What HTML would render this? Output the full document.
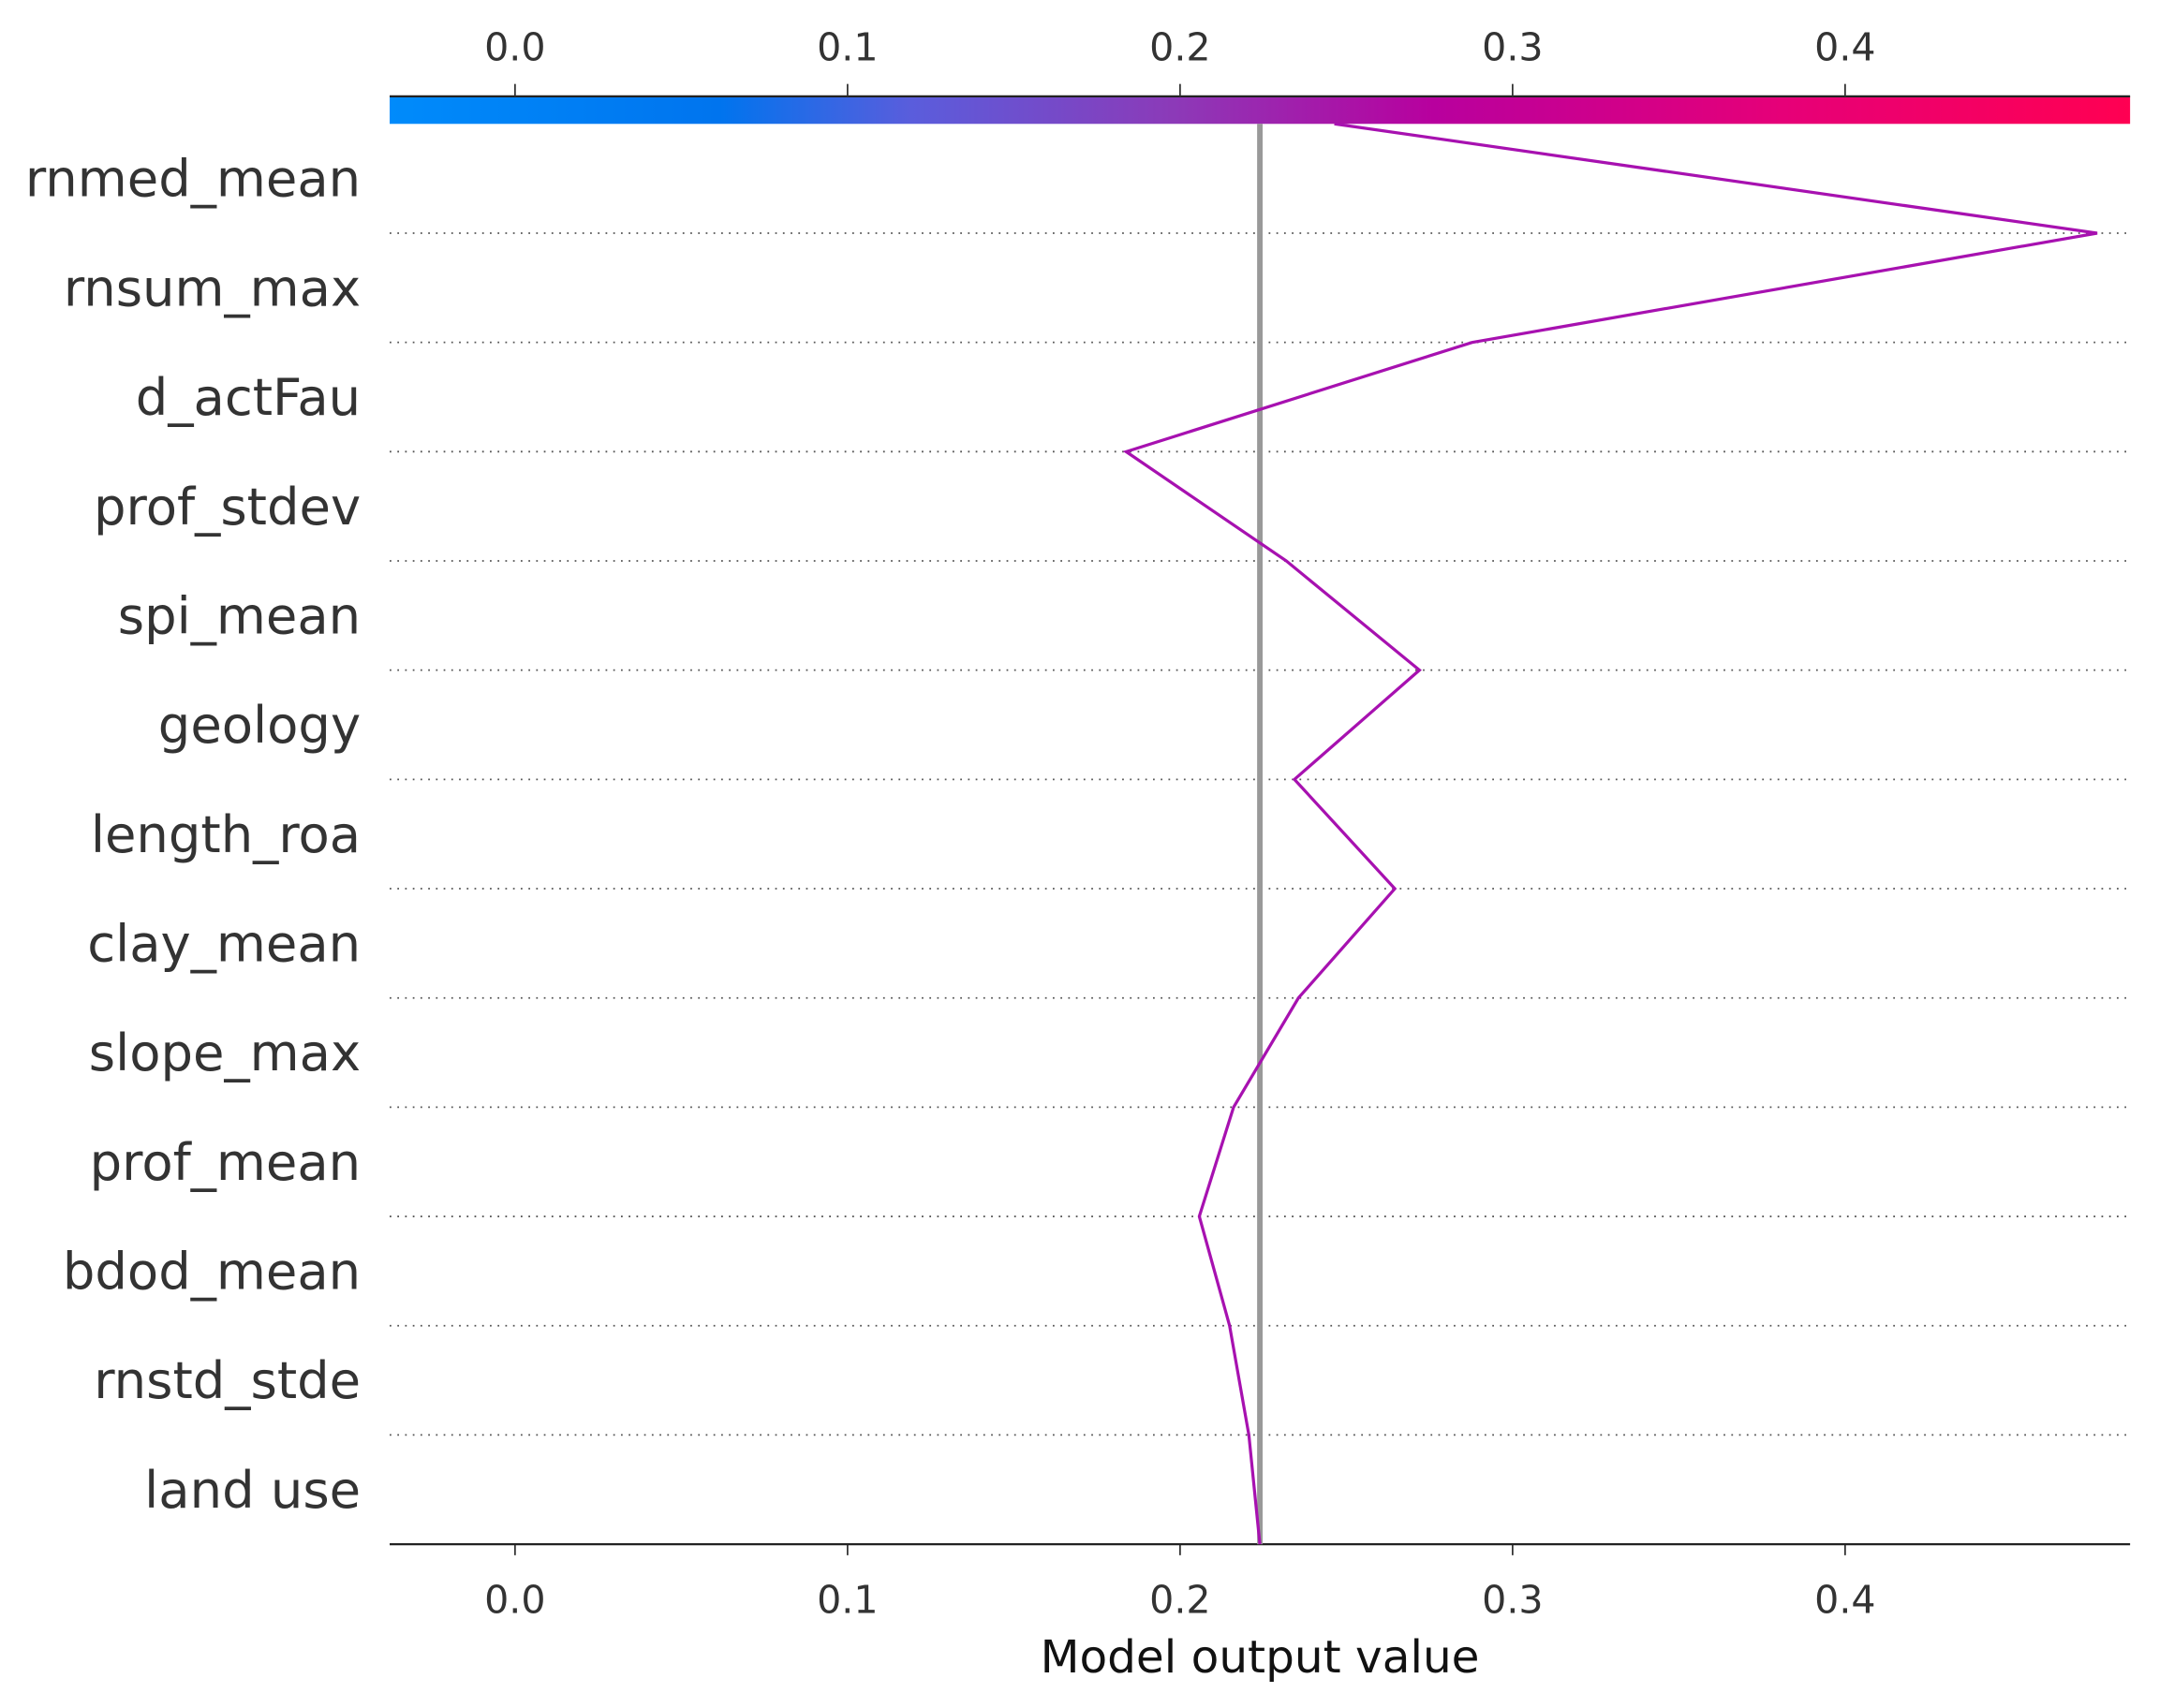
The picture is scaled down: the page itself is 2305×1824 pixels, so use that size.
<!DOCTYPE html>
<html><head><meta charset="utf-8"><style>
html,body{margin:0;padding:0;background:#fff;}
svg{display:block;font-family:"DejaVu Sans","Liberation Sans",sans-serif;}
</style></head><body>
<svg id="chart" width="2305" height="1824" viewBox="0 0 1568 1241" preserveAspectRatio="none" xmlns="http://www.w3.org/2000/svg">
<defs>
<linearGradient id="cb" x1="0" x2="1" y1="0" y2="0">
<stop offset="0" stop-color="#008bfb"/>
<stop offset="0.19" stop-color="#0074ee"/>
<stop offset="0.3" stop-color="#5a5ddc"/>
<stop offset="0.45" stop-color="#8c3ab8"/>
<stop offset="0.6" stop-color="#b8009e"/>
<stop offset="0.8" stop-color="#e60078"/>
<stop offset="1" stop-color="#ff0052"/>
</linearGradient>
</defs>
<g id="root"></g>
</svg>
<script>
const features = ["rnmed_mean","rnsum_max","d_actFau","prof_stdev","spi_mean","geology","length_roa","clay_mean","slope_max","prof_mean","bdod_mean","rnstd_stde","land use"];
const cumValues = [0.2464,0.4758,0.2878,0.1838,0.2319,0.2720,0.2344,0.2646,0.2356,0.2161,0.2058,0.2149,0.2207,0.2240];
const baseValue = 0.224;
const tickValues = [0.0,0.1,0.2,0.3,0.4];
const tickLabels = ["0.0","0.1","0.2","0.3","0.4"];

const L=283,R=1547,TOP=90,BOT=1122;
const xmin=-0.0377,xmax=0.4857;
const x=v=>L+(v-xmin)/(xmax-xmin)*(R-L);
const rowH=(BOT-TOP)/features.length;
const yb=i=>TOP+i*rowH;
const NS="http://www.w3.org/2000/svg";
const root=document.getElementById('root');
function mk(t,a,txt){const e=document.createElementNS(NS,t);for(const k in a)e.setAttribute(k,a[k]);if(txt!=null)e.textContent=txt;root.appendChild(e);return e;}

let cbar=mk('rect',{x:L,y:70,width:R-L,height:20,fill:'url(#cb)'});


let tl=mk('line',{x1:L,x2:R,y1:70,y2:70,stroke:'#222','stroke-width':1.5});



for(let i=1;i<features.length;i++){
  const g=mk('line',{x1:L,x2:R,y1:yb(i),y2:yb(i),stroke:'#555','stroke-width':1.2,'stroke-dasharray':'1.2,4.4'});
  
  
}
features.forEach((f,i)=>{
  const t=mk('text',{x:262,y:yb(i)+rowH/2+13,'text-anchor':'end','font-size':37,fill:'#333'},f);
  
  
});
tickValues.forEach((v,i)=>{
  const a=mk('line',{x1:x(v),x2:x(v),y1:61,y2:70,stroke:'#333','stroke-width':1.2});
  
  
  const b=mk('text',{x:x(v),y:44,'text-anchor':'middle','font-size':28,fill:'#333'},tickLabels[i]);
  
  
  const c=mk('line',{x1:x(v),x2:x(v),y1:BOT,y2:BOT+8,stroke:'#333','stroke-width':1.2});
  
  
  const d=mk('text',{x:x(v),y:1172,'text-anchor':'middle','font-size':28,fill:'#333'},tickLabels[i]);
  
  
});
let bl=mk('line',{x1:L,x2:R,y1:BOT,y2:BOT,stroke:'#222','stroke-width':1.5});


let xt=mk('text',{x:915,y:1215,'text-anchor':'middle','font-size':33,fill:'#111'},'Model output value');


let bv=mk('line',{x1:x(baseValue),x2:x(baseValue),y1:TOP,y2:BOT,stroke:'#999','stroke-width':4});


const pts=cumValues.map((v,i)=>x(v).toFixed(1)+','+yb(i).toFixed(1)).join(' ');
let pl=mk('polyline',{points:pts,fill:'none',stroke:'#a711b0','stroke-width':2.2,'stroke-linejoin':'miter'});


</script>
</body></html>
